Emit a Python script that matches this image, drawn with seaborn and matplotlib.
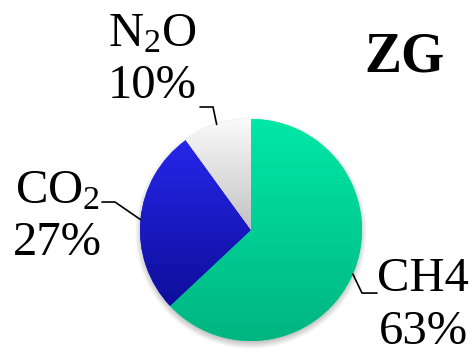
import numpy as np
import matplotlib
matplotlib.use("Agg")
import matplotlib.pyplot as plt
import seaborn as sns

# Greenhouse-gas shares for site ZG
gases = ["CH4", "CO2", "N2O"]
shares = [63, 27, 10]
gas_labels = ["CH4", r"CO$\mathregular{_2}$", r"N$\mathregular{_2}$O"]
site = "ZG"

# top -> bottom fill colours of each slice
slice_colors = {
    "CH4": ("#00E8A8", "#00B581"),
    "CO2": ("#2626EA", "#0E0E9A"),
    "N2O": ("#FBFBFB", "#C2C2C2"),
}

sns.set_theme(style="white")
plt.rcParams["font.family"] = ["Liberation Serif", "DejaVu Serif"]

fig = plt.figure(figsize=(4.72, 3.53), dpi=100)
ax = fig.add_axes([0, 0, 1, 1])

wedges, _ = ax.pie(
    shares,
    startangle=90,
    counterclock=False,
    radius=1.0,
    center=(0, 0),
    colors=[slice_colors[g][0] for g in gases],
    wedgeprops=dict(linewidth=0),
)

# soft drop shadow under the pie
gx = np.linspace(-1.15, 1.15, 300)
gy = np.linspace(-1.2, 1.1, 300)
XX, YY = np.meshgrid(gx, gy)
dist = np.hypot(XX, YY + 0.03)
alpha = np.clip((1.045 - dist) / 0.07, 0, 1) * 0.45
shadow = np.zeros(XX.shape + (4,))
shadow[..., :3] = 0.45
shadow[..., 3] = alpha
ax.imshow(shadow, extent=(gx[0], gx[-1], gy[0], gy[-1]), origin="lower",
          aspect="auto", zorder=0, interpolation="bilinear")

# vertical gradient fill clipped to each wedge
ramp = np.linspace(0, 1, 256).reshape(-1, 1)
for w, g in zip(wedges, gases):
    cmap = sns.blend_palette(list(slice_colors[g]), n_colors=256, as_cmap=True)
    bb = w.get_path().get_extents()
    im = ax.imshow(ramp, cmap=cmap, extent=(bb.x0, bb.x1, bb.y0, bb.y1),
                   origin="upper", aspect="auto", interpolation="bilinear",
                   zorder=w.get_zorder() + 0.1)
    im.set_clip_path(w)

# leader lines from slice mid-angles
label_pos = {"CH4": (1.55, -0.68), "CO2": (-1.745, 0.115), "N2O": (-0.885, 1.53)}
elbows = {
    "CH4": [(1.0, -0.568), (1.135, -0.568)],
    "CO2": [(-1.225, 0.252), (-1.342, 0.252)],
    "N2O": [(-0.342, 1.108), (-0.459, 1.108)],
}
for w, g, lab, val in zip(wedges, gases, gas_labels, shares):
    mid = np.deg2rad((w.theta1 + w.theta2) / 2)
    pts = [(np.cos(mid), np.sin(mid))] + elbows[g]
    xs, ys = zip(*pts)
    ax.plot(xs, ys, color="black", lw=1.2, zorder=5, solid_joinstyle="miter")
    ax.text(*label_pos[g], f"{lab}\n{val}%", ha="center", va="center",
            fontsize=35, color="black", linespacing=1.25)

ax.text(1.387, 1.55, site, ha="center", va="center", fontsize=40,
        fontweight="bold", color="black")

ax.set_aspect("equal")
ax.set_xlim(-2.261, 1.991)
ax.set_ylim(-1.108, 2.072)
ax.axis("off")

fig.savefig("out.png", dpi=100, facecolor="white")
